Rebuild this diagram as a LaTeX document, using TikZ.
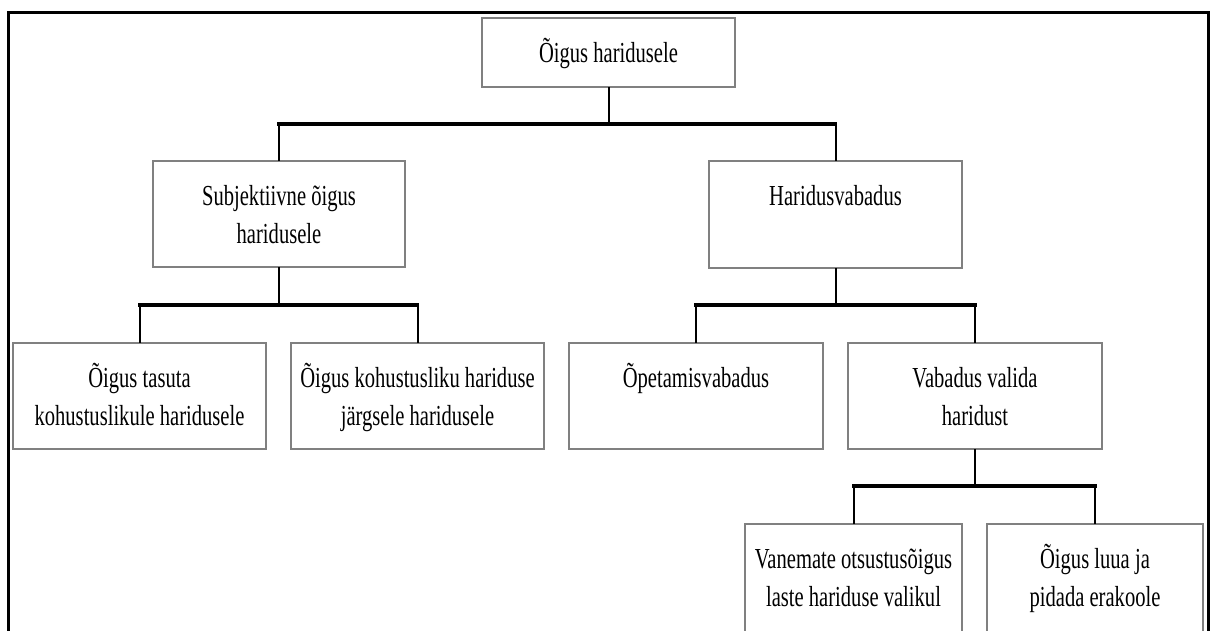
\documentclass[tikz,border=0pt]{standalone}
\usepackage{fontspec}
\setmainfont{Liberation Serif}[FakeStretch=0.71]
\begin{document}
\begin{tikzpicture}[x=1pt,y=-1pt,
  box/.style={draw=boxgray,line width=2.5pt,inner sep=0pt,outer sep=0pt,anchor=north west},
  vline/.style={draw=black,line width=2pt},
  hline/.style={draw=black,line width=3.2pt,line cap=rect},
  frame/.style={draw=black,line width=3pt}]
\definecolor{boxgray}{RGB}{128,128,128}
\newcommand{\bx}[3]{\parbox[c][#2pt][t]{#1pt}{\centering\fontsize{29}{38}\selectfont\rule{0pt}{44pt}#3}}
\useasboundingbox (0,0) rectangle (1210,630);
% outer frame (open at bottom)
\draw[frame] (8,650) -- (8,12) -- (1208,12) -- (1208,650);
% boxes
\node[box] (top)    at (482,18)  {\bx{253}{69}{Õigus haridusele}};
\node[box] (subj)   at (153,161) {\bx{252}{106}{Subjektiivne õigus\\haridusele}};
\node[box] (harv)   at (709,161) {\bx{253}{107}{Haridusvabadus}};
\node[box] (tasuta) at (13,343)  {\bx{253}{106}{Õigus tasuta\\kohustuslikule haridusele}};
\node[box] (kohust) at (291,343) {\bx{253}{106}{Õigus kohustusliku hariduse\\järgsele haridusele}};
\node[box] (opet)   at (569,343) {\bx{254}{106}{Õpetamisvabadus}};
\node[box] (valida) at (848,343) {\bx{254}{106}{Vabadus valida\\haridust}};
\node[box] (vanem)  at (745,524) {\bx{217}{112}{Vanemate otsustusõigus\\laste hariduse valikul}};
\node[box] (luua)   at (987,524) {\bx{216}{112}{Õigus luua ja\\pidada erakoole}};
% junction levels
\coordinate (j1) at (608.5,124);
\coordinate (j2) at (279,305);
\coordinate (j3) at (835.5,305);
\coordinate (j4) at (975,486);
% level 1
\draw[vline] (top.south) -- (top.south |- j1);
\draw[hline] (subj.north |- j1) -- (harv.north |- j1);
\draw[vline] (subj.north |- j1) -- (subj.north);
\draw[vline] (harv.north |- j1) -- (harv.north);
% level 2 left
\draw[vline] (subj.south) -- (subj.south |- j2);
\draw[hline] (tasuta.north |- j2) -- (kohust.north |- j2);
\draw[vline] (tasuta.north |- j2) -- (tasuta.north);
\draw[vline] (kohust.north |- j2) -- (kohust.north);
% level 2 right
\draw[vline] (harv.south) -- (harv.south |- j3);
\draw[hline] (opet.north |- j3) -- (valida.north |- j3);
\draw[vline] (opet.north |- j3) -- (opet.north);
\draw[vline] (valida.north |- j3) -- (valida.north);
% level 3
\draw[vline] (valida.south) -- (valida.south |- j4);
\draw[hline] (vanem.north |- j4) -- (luua.north |- j4);
\draw[vline] (vanem.north |- j4) -- (vanem.north);
\draw[vline] (luua.north |- j4) -- (luua.north);
\end{tikzpicture}
\end{document}
